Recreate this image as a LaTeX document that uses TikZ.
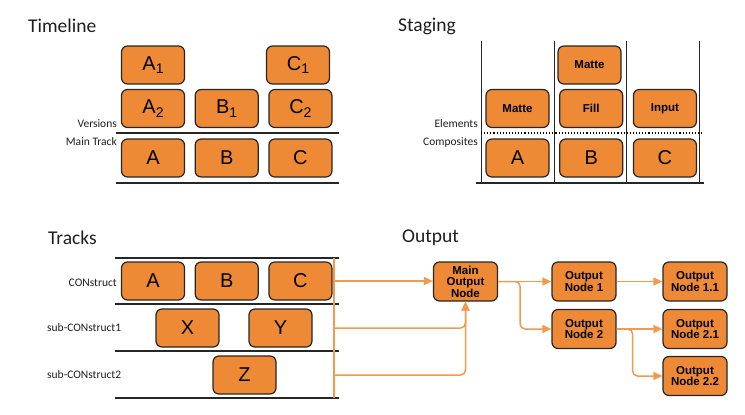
\documentclass[tikz,border=0pt]{standalone}
\usepackage{fontspec}
\setmainfont{Carlito}
\newfontfamily\arialfont{Liberation Sans}
\usetikzlibrary{arrows.meta,positioning}
\definecolor{boxorange}{RGB}{238,137,54}
\definecolor{linkorange}{RGB}{243,154,78}
\definecolor{labelgray}{RGB}{30,30,30}
\tikzstyle{clipbox}=[draw=black!85, fill=boxorange, rounded corners=6pt, line width=1.2pt, minimum width=63pt, minimum height=38pt, inner sep=0pt, font=\arialfont\fontsize{20}{22}\selectfont]
\tikzstyle{elembox}=[clipbox, font=\arialfont\bfseries\fontsize{11.5}{13}\selectfont]
\tikzstyle{opbox}=[clipbox, minimum width=64pt, minimum height=39pt, align=center, font=\arialfont\bfseries\fontsize{11.5}{11.5}\selectfont]
\tikzstyle{heading}=[anchor=west, inner sep=0pt, font=\fontsize{19.5}{22}\selectfont, text=labelgray]
\tikzstyle{lanelabel}=[inner sep=0pt, font=\fontsize{11.5}{13}\selectfont, text=labelgray]
\tikzstyle{lane}=[line width=1.2pt, draw=black!85]
\tikzstyle{link}=[->, >={Triangle[length=9pt,width=8pt]}, draw=linkorange, line width=1.5pt, rounded corners=5pt]
\newcommand{\ver}[1]{\raisebox{-0.35ex}{\fontsize{14}{14}\selectfont #1}}

\begin{document}
\begin{tikzpicture}[x=1pt,y=-1pt,node distance=9.5pt]
    \useasboundingbox (0,0) rectangle (745,415);

    % timeline
    \node[heading] (tl) at (28,26) {Timeline};
    \node[clipbox] (a1) at (153,65) {A\ver{1}};
    \node[clipbox] (c1) at (298,65) {C\ver{1}};
    \node[clipbox] (a2) at (153,108.5) {A\ver{2}};
    \node[clipbox, right=of a2] (b1) {B\ver{1}};
    \node[clipbox, right=of b1] (c2) {C\ver{2}};
    \node[clipbox] (ta) at (153,158) {A};
    \node[clipbox, right=of ta] (tb) {B};
    \node[clipbox, right=of tb] (tc) {C};
    \node[lanelabel, anchor=east] (versions) at (117,124) {Versions};
    \node[lanelabel, anchor=east] (maintrack) at (117,142) {Main Track};
    \draw[lane] (116,133) -- (339,133);
    \draw[lane] (116,183) -- (339,183);

    % staging
    \node[heading] (st) at (398,26) {Staging};
    \foreach \x in {481,554,626,699}
        \draw[line width=1pt, draw=black!85] (\x,41) -- (\x,183);
    \draw[lane] (476,183) -- (704,183);
    \draw[dotted, line width=1.1pt] (481,133) -- (704,133);
    \node[elembox] (matte) at (517.5,108.5) {Matte};
    \node[elembox, right=of matte] (fill) {Fill};
    \node[elembox, right=of fill] (input) {Input};
    \node[elembox] (matteb) at (589.5,65) {Matte};
    \node[clipbox] (sa) at (517.5,158) {A};
    \node[clipbox, right=of sa] (sb) {B};
    \node[clipbox, right=of sb] (sc) {C};
    \node[lanelabel, anchor=east] (elements) at (478,124) {Elements};
    \node[lanelabel, anchor=east] (composites) at (478,142) {Composites};

    % tracks
    \node[heading] (tr) at (48,238) {Tracks};
    \foreach \y in {258,304,351,398}
        \draw[lane] (115,\y) -- (339,\y);
    \node[clipbox] (ka) at (153,281) {A};
    \node[clipbox, right=of ka] (kb) {B};
    \node[clipbox, right=of kb] (kc) {C};
    \node[clipbox] (kx) at (187.5,328) {X};
    \node[clipbox] (ky) at (280.5,328) {Y};
    \node[clipbox] (kz) at (244.5,375) {Z};
    \node[lanelabel, anchor=east] (construct) at (117,283) {CONstruct};
    \node[lanelabel, anchor=west] (sub1) at (47,328) {sub-CONstruct1};
    \node[lanelabel, anchor=west] (sub2) at (47,375) {sub-CONstruct2};
    \draw[draw=linkorange, line width=1.5pt] (334,258) -- (334,398);
    \coordinate (bus1) at (334,281);
    \coordinate (bus2) at (334,328);
    \coordinate (bus3) at (334,375);

    % output
    \node[heading] (out) at (402,238) {Output};
    \node[opbox] (main) at (465.5,281.5) {Main\\Output\\Node};
    \node[opbox] (out1) at (584,281.5) {Output\\Node 1};
    \node[opbox] (out2) at (584,329) {Output\\Node 2};
    \node[opbox] (out11) at (695,281.5) {Output\\Node 1.1};
    \node[opbox] (out21) at (695,329) {Output\\Node 2.1};
    \node[opbox] (out22) at (695,376) {Output\\Node 2.2};

    \draw[link] (bus1) -- (bus1 -| main.west);
    \draw[link] (bus2) -| (main.south);
    \draw[link] (bus3) -| (main.south);
    \draw[link] (main) -- (out1);
    \draw[link] (main.east) -- ++(22,0) |- (out2);
    \draw[link] (out1) -- (out11);
    \draw[link] (out2) -- (out21);
    \draw[link] (out2.east) -- ++(16,0) |- (out22);
\end{tikzpicture}
\end{document}
